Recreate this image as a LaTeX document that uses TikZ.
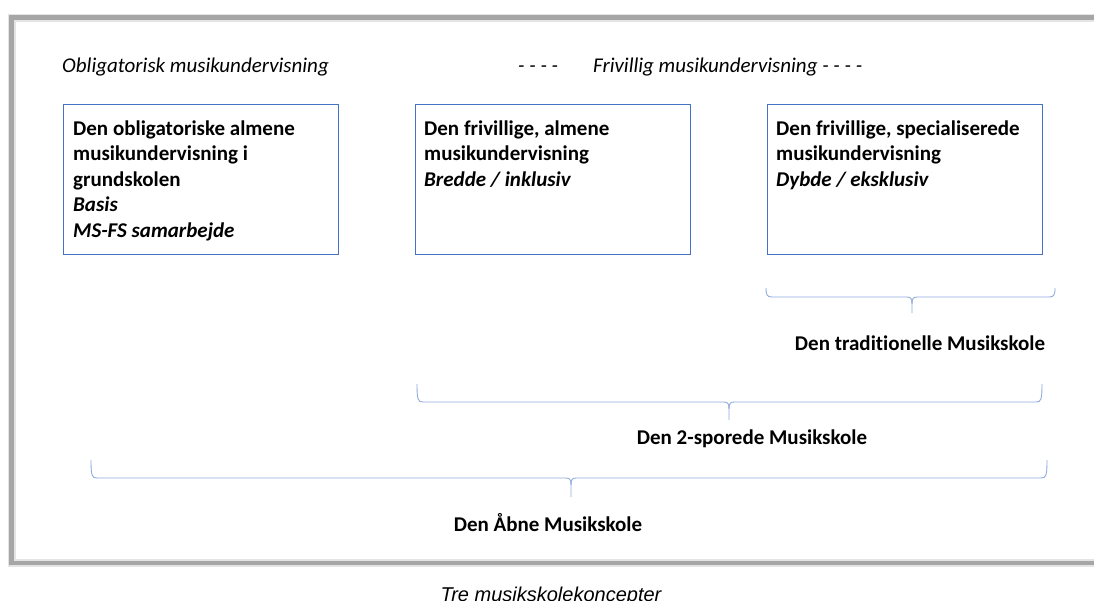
\documentclass[tikz,border=0pt]{standalone}
\usepackage{fontspec}
\setmainfont[Ligatures=NoCommon]{Carlito}
\newfontfamily\capfont{Liberation Sans}
\definecolor{boxblue}{HTML}{4472C4}
\definecolor{braceblue}{HTML}{8FAADC}
\definecolor{framegray}{HTML}{A6A6A6}
\newcommand\wbrace[6]{% x1, x2, tip, top, horizontal, bottom
  \draw[bracestyle] (#1,#4) .. controls (#1,#5-2) and (#1+1,#5) .. (#1+6,#5)
    -- (#3-5,#5) .. controls (#3-1,#5) and (#3,#5+2) .. (#3,#5+7) -- (#3,#6);
  \draw[bracestyle] (#3,#5+7) .. controls (#3,#5+2) and (#3+1,#5) .. (#3+5,#5)
    -- (#2-6,#5) .. controls (#2-1,#5) and (#2,#5-2) .. (#2,#4);
}
\begin{document}
\begin{tikzpicture}[x=1pt,y=-1pt,
  boxstyle/.style={draw=boxblue,line width=1.1pt,minimum width=275pt,minimum height=150pt,inner sep=0pt,anchor=north west},
  boxtext/.style={font=\fontsize{21}{25.5}\selectfont,align=left,inner sep=0pt,anchor=north west},
  toplabel/.style={font=\fontsize{21}{25.5}\selectfont\itshape,inner sep=0pt,anchor=base west},
  schoollabel/.style={font=\fontsize{21}{25.5}\selectfont\bfseries,inner sep=0pt,anchor=base},
  bracestyle/.style={draw=braceblue,line width=0.9pt},
]
\useasboundingbox (0,0) rectangle (1094,600);
\clip (0,0) rectangle (1094,600);
% outer frame with soft shadow
\draw[line width=8pt,framegray!30] (11.5,17.5) rectangle (1110,563);
\draw[line width=4.5pt,framegray] (11.5,17.5) rectangle (1110,563);

% top labels
\node[toplabel] (oblig) at (62,72) {Obligatorisk musikundervisning};
\node[toplabel] (dash) at (518,72) {- - - -};
\node[toplabel] (friv) at (593,72) {Frivillig musikundervisning - - - -};

% boxes
\node[boxstyle] (b1) at (63,104) {};
\node[boxstyle] (b2) at (415,104) {};
\node[boxstyle] (b3) at (767,104) {};

\node[boxtext] (t1) at (73,119) {\rule{0pt}{16pt}\bfseries Den obligatoriske almene\\\bfseries musikundervisning i\\\bfseries grundskolen\\\bfseries\itshape Basis\\\bfseries\itshape MS-FS samarbejde};
\node[boxtext] (t2) at (424,119) {\rule{0pt}{16pt}\bfseries Den frivillige, almene\\\bfseries musikundervisning\\\bfseries\itshape Bredde / inklusiv};
\node[boxtext] (t3) at (776,119) {\rule{0pt}{16pt}\bfseries Den frivillige, specialiserede\\\bfseries musikundervisning\\\bfseries\itshape Dybde / eksklusiv};

% braces
\wbrace{766}{1055}{912}{288}{297}{313}
\wbrace{417}{1042}{729}{384}{402}{420}
\wbrace{91}{1047}{571}{460}{478}{497}

% school labels
\node[schoollabel] (trad) at (920,350) {Den traditionelle Musikskole};
\node[schoollabel] (tospor) at (752,444) {Den 2-sporede Musikskole};
\node[schoollabel] (aabne) at (548,531) {Den Åbne Musikskole};

% caption (cut off at the lower edge, as in the reference)
\node[font=\capfont\fontsize{20}{24}\selectfont\itshape,inner sep=0pt,anchor=base] (cap) at (551,601) {Tre musikskolekoncepter};
\end{tikzpicture}
\end{document}
